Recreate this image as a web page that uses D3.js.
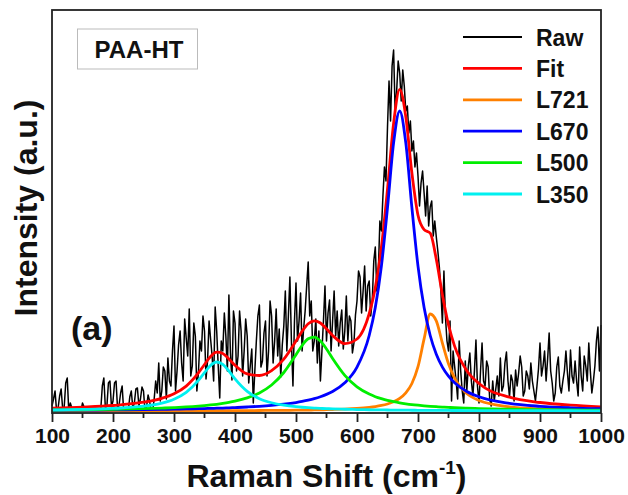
<!DOCTYPE html>
<html>
<head>
<meta charset="utf-8">
<script src="https://cdn.jsdelivr.net/npm/d3@7"></script>
<style>
  body { margin: 0; background: #fff; }
  text { font-family: 'Liberation Sans', Arial, sans-serif; font-weight: bold; fill: #111; }
</style>
</head>
<body>
<svg width="628" height="495"></svg>
<script>
// Raw spectrum, every 2.5 cm-1 from 100 to 1000
const rawShift = d3.range(100, 1000.01, 2.5);
const rawIntensity = [
  5, 12, 20, 0, 3, 15, 22, 2, 4, 28, 33, 0, 8, 3, 0, 0, 0, 0, 2, 0, 8, 4, 0, 0, 4, 0, 0, 0, 0, 0, 0, 0, 2, 25, 33, 3, 5, 28, 30, 4,
  10, 28, 30, 2, 6, 18, 25, 0, 2, 0, 0, 14, 20, 3, 8, 22, 23, 5, 12, 24, 20, 0, 4, 16, 10, 0, 0, 12, 30, 18, 48, 10, 20, 44, 40, 12, 53, 30, 25, 60,
  85, 20, 40, 66, 80, 48, 30, 92, 73, 55, 102, 35, 45, 88, 75, 20, 38, 70, 60, 95, 80, 32, 50, 90, 72, 55, 30, 104, 80, 45, 13, 70, 60, 98, 75, 40, 116, 58, 31, 100,
  88, 40, 55, 100, 80, 35, 60, 92, 75, 28, 45, 62, 8, 40, 70, 95, 106, 44, 50, 78, 90, 35, 60, 110, 95, 48, 70, 102, 55, 82, 34, 66, 85, 120, 60, 95, 134, 70, 25, 90,
  128, 70, 90, 118, 60, 82, 100, 125, 149, 95, 110, 60, 70, 92, 48, 80, 30, 60, 90, 125, 70, 98, 111, 60, 90, 120, 75, 100, 65, 88, 101, 62, 80, 115, 70, 95, 90, 58, 68, 96,
  110, 140, 134, 98, 120, 145, 100, 125, 130, 95, 110, 150, 164, 120, 140, 190, 180, 215, 244, 230, 284, 330, 290, 345, 361, 300, 320, 350, 338, 310, 341, 325, 300, 305, 278, 290, 260, 270, 244, 258,
  235, 205, 228, 240, 218, 195, 225, 185, 204, 210, 175, 190, 174, 160, 144, 120, 88, 140, 94, 70, 60, 90, 10, 60, 45, 30, 12, 70, 40, 20, 8, 50, 20, 45, 58, 30, 15, 40, 71, 25,
  8, 40, 68, 30, 25, 50, 44, 12, 5, 30, 10, 22, 35, 15, 53, 20, 25, 48, 59, 30, 14, 36, 30, 10, 41, 25, 38, 55, 44, 15, 20, 40, 35, 22, 48, 30, 20, 10, 25, 42,
  68, 35, 45, 60, 30, 52, 78, 40, 28, 10, 18, 44, 54, 25, 18, 30, 40, 60, 38, 20, 61, 35, 28, 50, 30, 15, 64, 35, 20, 55, 45, 30, 68, 40, 18, 30, 45, 70, 84, 40,
  86
];

// Fitted components
const fitShift = [100, 150, 200, 250, 280, 300, 320, 340, 350, 360, 370, 380, 390, 400,
  420, 440, 460, 480, 500, 510, 520, 530, 540, 550, 560, 580, 600, 620, 630, 640, 650,
  660, 670, 680, 690, 700, 710, 720, 730, 740, 750, 760, 780, 800, 850, 900, 950, 1000];
const fitTotal = [2.9, 3.9, 5.5, 8.8, 12.7, 17.2, 24.9, 38.1, 46.5, 54.5, 58.8, 57.5, 52.1, 45.7,
  37.1, 35.5, 40.4, 51.8, 69.9, 79.7, 87.2, 90.2, 88.0, 82.2, 75.6, 67.4, 72.0, 97.3, 123.3, 163.8, 221.9,
  287.5, 321.6, 294.2, 238.0, 195.7, 181.4, 177.8, 151.8, 116.3, 86.1, 64.9, 40.3, 27.5, 13.8, 8.5, 5.8, 4.2];
const l721 = [0.1, 0.12, 0.14, 0.18, 0.2, 0.22, 0.24, 0.27, 0.28, 0.3, 0.32, 0.33, 0.35, 0.38,
  0.43, 0.49, 0.57, 0.67, 0.79, 0.87, 0.95, 1.05, 1.17, 1.31, 1.47, 1.91, 2.57, 3.63, 4.42, 5.51, 7.02,
  9.24, 12.6, 18.1, 27.5, 44.3, 72.1, 97.0, 90.1, 67.9, 47.2, 32.9, 17.5, 10.5, 4.17, 2.2, 1.36, 0.92];
const l670 = [0.77, 0.93, 1.14, 1.42, 1.65, 1.83, 2.05, 2.3, 2.44, 2.6, 2.78, 2.97, 3.18, 3.42,
  3.98, 4.69, 5.62, 6.83, 8.47, 9.55, 10.8, 12.3, 14.2, 16.6, 19.5, 28.2, 43.9, 75.5, 103.4, 144.9, 203.3,
  268.1, 300, 268.1, 203.3, 144.9, 103.4, 75.5, 56.8, 43.9, 34.8, 28.2, 19.5, 14.2, 7.59, 4.69, 3.18, 2.3];
const l500 = [1.0, 1.27, 1.68, 2.32, 2.89, 3.39, 4.04, 4.89, 5.41, 6.02, 6.73, 7.58, 8.58, 9.8,
  13.05, 18.05, 25.96, 38.5, 56.3, 65.5, 72.2, 73.9, 70.0, 62.0, 52.5, 35.6, 24.1, 16.9, 14.3, 12.3, 10.6,
  9.28, 8.16, 7.23, 6.43, 5.77, 5.19, 4.7, 4.28, 3.9, 3.57, 3.29, 2.8, 2.42, 1.74, 1.31, 1.02, 0.82];
const l350 = [1.04, 1.56, 2.54, 4.83, 7.93, 11.8, 18.6, 30.6, 38.4, 45.6, 49.0, 46.6, 40.0, 32.1,
  19.6, 12.3, 8.24, 5.81, 4.3, 3.75, 3.29, 2.92, 2.6, 2.33, 2.1, 1.73, 1.45, 1.23, 1.14, 1.06, 0.99,
  0.92, 0.86, 0.81, 0.76, 0.71, 0.67, 0.64, 0.6, 0.57, 0.54, 0.51, 0.46, 0.42, 0.34, 0.28, 0.23, 0.2];

const xTicks = d3.range(100, 1001, 100);
const xMinorTicks = d3.range(150, 1000, 100);

const series = [
  { name: 'Fit', values: fitTotal, color: '#ff0000' },
  { name: 'L721', values: l721, color: '#ff8000' },
  { name: 'L670', values: l670, color: '#0000ff' },
  { name: 'L500', values: l500, color: '#00ee00' },
  { name: 'L350', values: l350, color: '#00f0f0' }
];

const svg = d3.select('svg');

// plot box
const box = { left: 52, right: 601, top: 10, bottom: 413 };

const xScale = d3.scaleLinear().domain([100, 1000]).range([box.left, box.right]);
const yScale = d3.scaleLinear().domain([0, 401]).range([411, box.top]);

const rawLine = d3.line()
  .x((d, i) => xScale(rawShift[i]))
  .y((d) => yScale(d));

const fitLine = d3.line()
  .x((d, i) => xScale(fitShift[i]))
  .y((d) => yScale(d))
  .curve(d3.curveMonotoneX);

// Raw data
svg.append('path')
  .datum(rawIntensity)
  .attr('d', rawLine)
  .attr('fill', 'none')
  .attr('stroke', '#000')
  .attr('stroke-width', 1.5)
  .attr('stroke-linejoin', 'round');

// Fit + components
series.forEach((s) => {
  svg.append('path')
    .datum(s.values)
    .attr('d', fitLine)
    .attr('fill', 'none')
    .attr('stroke', s.color)
    .attr('stroke-width', 2.8);
});

// Frame
svg.append('rect')
  .attr('x', box.left)
  .attr('y', box.top)
  .attr('width', box.right - box.left)
  .attr('height', box.bottom - box.top)
  .attr('fill', 'none')
  .attr('stroke', '#222')
  .attr('stroke-width', 1.8);

// Bottom axis
const xAxis = svg.append('g')
  .attr('transform', `translate(0,${box.bottom})`)
  .call(d3.axisBottom(xScale).tickValues(xTicks).tickSize(9).tickPadding(6).tickFormat(d3.format('d')));
xAxis.select('.domain').remove();
xAxis.selectAll('line').attr('stroke', '#222').attr('stroke-width', 1.8);
xAxis.selectAll('text')
  .attr('font-size', 21)
  .attr('font-family', "'Liberation Sans', Arial, sans-serif")
  .attr('font-weight', 'bold')
  .attr('fill', '#111');

svg.append('g')
  .selectAll('line')
  .data(xMinorTicks)
  .join('line')
  .attr('x1', (d) => xScale(d))
  .attr('x2', (d) => xScale(d))
  .attr('y1', box.bottom)
  .attr('y2', box.bottom + 5)
  .attr('stroke', '#222')
  .attr('stroke-width', 1.8);

// Axis titles
const xTitle = svg.append('text')
  .attr('x', (box.left + box.right) / 2)
  .attr('y', 487)
  .attr('text-anchor', 'middle')
  .attr('font-size', 32);
xTitle.append('tspan').text('Raman Shift (cm');
xTitle.append('tspan').text('-1').attr('font-size', 19).attr('dy', -13);
xTitle.append('tspan').text(')').attr('dy', 13);

svg.append('text')
  .attr('transform', 'translate(37,208) rotate(-90)')
  .attr('text-anchor', 'middle')
  .attr('font-size', 32)
  .text('Intensity (a.u.)');

// Sample label box
svg.append('rect')
  .attr('x', 77.5)
  .attr('y', 29)
  .attr('width', 120)
  .attr('height', 40)
  .attr('fill', '#fff')
  .attr('stroke', '#bbb')
  .attr('stroke-width', 1);
svg.append('text')
  .attr('x', 139)
  .attr('y', 58)
  .attr('text-anchor', 'middle')
  .attr('font-size', 24)
  .text('PAA-HT');

svg.append('text')
  .attr('x', 71)
  .attr('y', 340)
  .attr('font-size', 34)
  .text('(a)');

// Legend
const legendItems = [{ name: 'Raw', color: '#000', width: 1.8 }]
  .concat(series.map((s) => ({ name: s.name, color: s.color, width: 2.8 })));

const legend = svg.append('g')
  .selectAll('g')
  .data(legendItems)
  .join('g')
  .attr('transform', (d, i) => `translate(463,${37 + i * 31.4})`);

legend.append('line')
  .attr('x1', 0)
  .attr('x2', 59)
  .attr('stroke', (d) => d.color)
  .attr('stroke-width', (d) => d.width);

legend.append('text')
  .attr('x', 73)
  .attr('y', 8.5)
  .attr('font-size', 23)
  .text((d) => d.name);
</script>
</body>
</html>
